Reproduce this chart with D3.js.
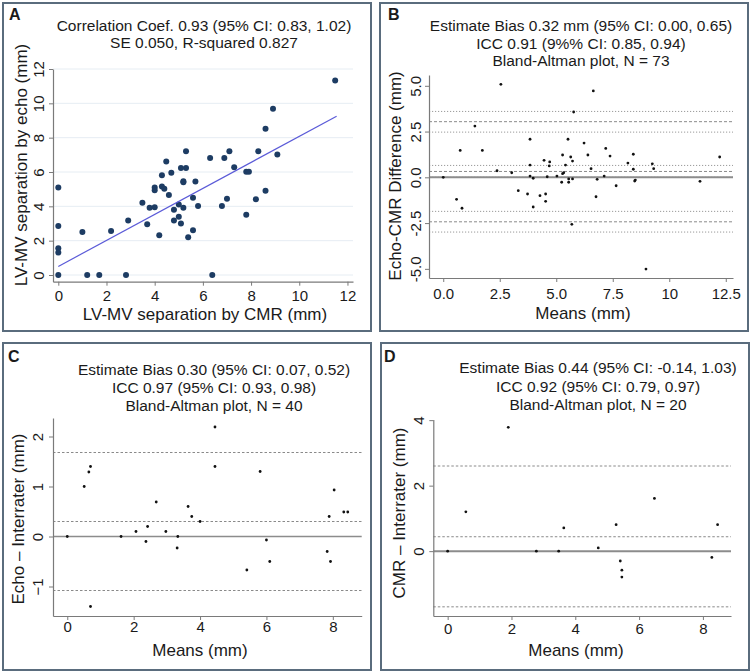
<!DOCTYPE html>
<html>
<head>
<meta charset="utf-8">
<script src="https://cdn.jsdelivr.net/npm/d3@7"></script>
<style>
  html, body { margin: 0; padding: 0; background: #ffffff; }
  svg text { font-family: "Liberation Sans", Arial, Helvetica, sans-serif; fill: #1a1a1a; }
</style>
</head>
<body>
<svg id="chart" width="752" height="671"></svg>
<script>
// ---------------- DATA ----------------
// Panel A: scatter CMR (x) vs echo (y)
const aCMR  = [0, 0, 0, 0, 0, 1.0, 1.2, 1.7, 2.19, 2.81, 2.9, 3.49, 3.69, 3.79, 4.0, 4.0, 4.0, 4.19, 4.3, 4.3, 4.4, 4.48, 4.59, 4.69, 4.8, 4.8, 5.0, 5.0, 5.09, 5.09, 5.19, 5.19, 5.19, 5.3, 5.3, 5.39, 5.59, 5.59, 5.69, 5.8, 11.49, 8.91, 8.6, 8.3, 9.09, 7.1, 6.3, 6.89, 7.3, 7.8, 7.91, 6.79, 7.0, 8.2, 8.6, 7.8, 6.39];
const aEcho = [5.1, 2.85, 1.56, 1.31, 0, 2.51, 0, 0, 2.57, 0, 3.18, 4.21, 2.96, 3.92, 3.94, 5.1, 4.93, 2.32, 5.81, 5.15, 5.03, 6.61, 4.66, 5.95, 3.8, 3.18, 4.11, 3.39, 3.0, 6.24, 3.92, 5.46, 5.4, 6.24, 7.21, 2.2, 4.5, 2.61, 5.44, 4.02, 11.33, 9.69, 8.52, 7.21, 7.02, 7.21, 6.82, 6.82, 6.28, 6.02, 6.02, 4.02, 4.44, 4.41, 4.91, 3.51, 0];
const aFitX = [0, 11.55];
const aFitY = [0.5, 9.25];
const aTitle = ["Correlation Coef. 0.93 (95% CI: 0.83, 1.02)", "SE 0.050, R-squared 0.827"];
const aTicks = [0, 2, 4, 6, 8, 10, 12];

// Panel B: Bland-Altman Echo vs CMR
const bMeans = [2.55, 5.77, 1.40, 3.84, 5.52, 0.75, 1.73, 4.46, 4.71, 4.69, 3.84, 5.28, 5.41, 5.64, 5.72, 2.38, 3.03, 0, 3.84, 3.98, 4.6, 5.03, 5.28, 5.33, 5.24, 5.55, 5.55, 5.72, 3.32, 3.73, 4.28, 4.53, 4.53, 3.98, 0.59, 0.83, 5.69, 6.64, 6.23, 7.19, 6.4, 7.38, 8.41, 8.17, 8.41, 9.25, 9.31, 12.23, 6.54, 6.81, 7.12, 7.65, 8.5, 8.47, 11.36, 6.76, 8.97];
const bDiffs = [5.08, 3.57, 2.8, 2.08, 2.08, 1.47, 1.47, 0.93, 0.84, 0.62, 0.67, 1.22, 0.67, 1.11, 0.89, 0.36, 0.25, 0, 0.07, -0.05, 0.03, 0.07, 0.2, 0.25, -0.27, -0.09, -0.27, -0.09, -0.73, -0.91, -1.0, -0.91, -1.31, -1.62, -1.2, -1.69, -2.57, 4.72, 1.87, 1.58, 1.22, 1.16, 1.26, 0.78, 0.44, 0.74, 0.47, 1.11, 0.47, -0.11, 0.07, -0.46, -0.15, -0.2, -0.22, -1.06, -5.01];
const bDashed = [0.32, 3.04, -2.43];
const bDotted = [0.00, 0.65, 2.47, 3.60, -2.99, -1.86];
const bTitle = ["Estimate Bias 0.32 mm (95% CI: 0.00, 0.65)", "ICC 0.91 (9%% CI: 0.85, 0.94)", "Bland-Altman plot, N = 73"];
const bXTicks = [0, 2.5, 5, 7.5, 10, 12.5];
const bXLabels = ["0.0", "2.5", "5.0", "7.5", "10", "12.5"];
const bYTicks = [-5, -2.5, 0, 2.5, 5];
const bYLabels = ["-5.0", "-2.5", "0.0", "2.5", "5.0"];

// Panel C: Echo interrater
const cMeans = [4.45, 0.70, 0.65, 0.51, 4.45, 5.81, 8.04, 2.68, 3.64, 3.75, 4.0, 7.89, 8.33, 8.45, 0, 1.62, 2.07, 2.42, 2.97, 2.37, 3.33, 3.31, 6.0, 6.1, 5.41, 7.83, 7.93, 0.70];
const cDiffs = [2.19, 1.40, 1.29, 1.0, 1.40, 1.3, 0.93, 0.69, 0.60, 0.40, 0.30, 0.40, 0.49, 0.49, 0, 0, 0.10, 0.20, 0.10, -0.10, 0, -0.23, -0.07, -0.50, -0.67, -0.30, -0.50, -1.40];
const cDashed = [0.30, 1.68, -1.08];
const cTitle = ["Estimate Bias 0.30 (95% CI: 0.07, 0.52)", "ICC 0.97 (95% CI: 0.93, 0.98)", "Bland-Altman plot, N = 40"];
const cXTicks = [0, 2, 4, 6, 8];
const cYTicks = [-1, 0, 1, 2];

// Panel D: CMR interrater
const dMeans = [1.90, 6.48, 0.57, 5.28, 3.64, 8.46, 0, 2.78, 3.48, 4.72, 5.41, 5.46, 5.46, 8.28];
const dDiffs = [3.78, 1.61, 1.20, 0.81, 0.71, 0.81, 0, 0, 0, 0.10, -0.30, -0.58, -0.79, -0.19];
const dDashed = [0.44, 2.60, -1.70];
const dTitle = ["Estimate Bias 0.44 (95% CI: -0.14, 1.03)", "ICC 0.92 (95% CI: 0.79, 0.97)", "Bland-Altman plot, N = 20"];
const dXTicks = [0, 2, 4, 6, 8];
const dYTicks = [0, 2, 4];

// ---------------- DRAW ----------------
const svg = d3.select("#chart");
const FRAME = "#5a6c7d";
const AXIS = "#7a7a7a";

function frame(x0, y0, x1, y1) {
  svg.append("rect").attr("x", x0).attr("y", y0).attr("width", x1 - x0).attr("height", y1 - y0)
    .attr("fill", "#fff").attr("stroke", FRAME).attr("stroke-width", 2);
}
function letter(t, x, y) {
  svg.append("text").attr("x", x).attr("y", y).attr("font-size", 16).attr("font-weight", "bold").text(t);
}
function titles(lines, cx, ys) {
  lines.forEach((l, i) => svg.append("text").attr("x", cx).attr("y", ys[i])
    .attr("text-anchor", "middle").attr("font-size", 15.5).text(l));
}
function styleAxis(g) {
  g.select(".domain").attr("stroke", AXIS).attr("stroke-width", 1.2);
  g.selectAll(".tick line").attr("stroke", AXIS).attr("stroke-width", 1);
  g.selectAll(".tick text").attr("font-size", 15).attr("fill", "#1a1a1a")
    .attr("font-family", "Liberation Sans, Arial, sans-serif");
}
function xAxis(x, yPix, ticks, labels, labelY) {
  const g = svg.append("g").attr("transform", `translate(0,${yPix})`)
    .call(d3.axisBottom(x).tickValues(ticks).tickSize(4).tickSizeOuter(0)
      .tickFormat((d, i) => labels ? labels[i] : d3.format("d")(d)));
  styleAxis(g);
  g.selectAll(".tick text").attr("y", labelY - yPix).attr("dy", "0.35em");
}
function yAxis(y, xPix, ticks, labels, labelX) {
  const g = svg.append("g").attr("transform", `translate(${xPix},0)`)
    .call(d3.axisLeft(y).tickValues(ticks).tickSize(4).tickSizeOuter(0)
      .tickFormat((d, i) => labels ? labels[i] : d3.format("d")(d)));
  styleAxis(g);
  g.selectAll(".tick text").attr("x", 0).attr("dy", "0.35em").attr("text-anchor", "middle")
    .attr("transform", `translate(${labelX - xPix},0) rotate(-90)`);
}
function axisTitles(xt, xcx, xcy, yt, ycx, ycy) {
  svg.append("text").attr("x", xcx).attr("y", xcy).attr("dy", "0.35em").attr("text-anchor", "middle")
    .attr("font-size", 17).text(xt);
  svg.append("text").attr("transform", `translate(${ycx},${ycy}) rotate(-90)`).attr("dy", "0.35em")
    .attr("text-anchor", "middle").attr("font-size", 17).text(yt);
}
function hlines(x, y, vals, dash, color, width) {
  svg.append("g").selectAll("line").data(vals).join("line")
    .attr("x1", x.range()[0]).attr("x2", x.range()[1])
    .attr("y1", d => y(d)).attr("y2", d => y(d))
    .attr("stroke", color).attr("stroke-width", width)
    .attr("stroke-dasharray", dash);
}
function dots(x, y, xs, ys, r, color) {
  svg.append("g").selectAll("circle").data(xs).join("circle")
    .attr("cx", d => x(d)).attr("cy", (d, i) => y(ys[i])).attr("r", r).attr("fill", color);
}

// ----- Panel A -----
frame(3, 3, 371, 331);
letter("A", 9, 20);
titles(aTitle, 204, [31, 48]);
{
  const x = d3.scaleLinear().domain([-0.22, 12.23]).range([53, 353]);
  const y = d3.scaleLinear().domain([-0.39, 12]).range([281.7, 69]);
  svg.append("g").selectAll("line").data(aTicks).join("line")
    .attr("x1", x.range()[0]).attr("x2", x.range()[1])
    .attr("y1", d => y(d)).attr("y2", d => y(d))
    .attr("stroke", "#e6edf3").attr("stroke-width", 1);
  xAxis(x, 281.7, aTicks, null, 296);
  yAxis(y, 53, aTicks, null, 39);
  dots(x, y, aCMR, aEcho, 3, "#1d3c63");
  svg.append("line").attr("x1", x(aFitX[0])).attr("y1", y(aFitY[0]))
    .attr("x2", x(aFitX[1])).attr("y2", y(aFitY[1]))
    .attr("stroke", "#5b5bd8").attr("stroke-width", 1.2);
  axisTitles("LV-MV separation by CMR (mm)", 205, 314, "LV-MV separation by echo (mm)", 21, 165);
}

// ----- Panel B -----
frame(380, 3, 748, 331);
letter("B", 388, 20);
titles(bTitle, 581, [31, 48.5, 66]);
{
  const x = d3.scaleLinear().domain([-0.63, 12.82]).range([429, 733]);
  const y = d3.scaleLinear().domain([-5.5, 5.59]).range([278, 75]);
  hlines(x, y, bDotted, "1.2,1.8", "#9a9a9a", 1);
  hlines(x, y, bDashed, "3,2", "#8a8a8a", 1);
  hlines(x, y, [0], null, "#8c8c8c", 2);
  xAxis(x, 278, bXTicks, bXLabels, 294);
  yAxis(y, 429, bYTicks, bYLabels, 416);
  dots(x, y, bMeans, bDiffs, 1.4, "#111");
  axisTitles("Means (mm)", 583, 313, "Echo-CMR Difference (mm)", 395, 176);
}

// ----- Panel C -----
frame(3, 343, 371, 670);
letter("C", 8, 362);
titles(cTitle, 214, [375, 393, 410.5]);
{
  const x = d3.scaleLinear().domain([-0.43, 8.87]).range([53, 361.7]);
  const y = d3.scaleLinear().domain([-1.59, 2.37]).range([616, 418]);
  hlines(x, y, cDashed, "2.5,2", "#8a8a8a", 1);
  hlines(x, y, [0], null, "#8c8c8c", 1.6);
  xAxis(x, 616, cXTicks, null, 627);
  yAxis(y, 53, cYTicks, null, 38);
  dots(x, y, cMeans, cDiffs, 1.4, "#111");
  axisTitles("Means (mm)", 200, 650, "Echo \u2013 Interrater (mm)", 18, 519);
}

// ----- Panel D -----
frame(381, 343, 749, 670);
letter("D", 384, 362);
titles(dTitle, 598, [373, 391.5, 410]);
{
  const x = d3.scaleLinear().domain([-0.45, 8.88]).range([433.3, 731]);
  const y = d3.scaleLinear().domain([-1.98, 4.02]).range([616, 419.5]);
  hlines(x, y, dDashed, "2.5,2", "#8a8a8a", 1);
  hlines(x, y, [0], null, "#8c8c8c", 2);
  xAxis(x, 616, dXTicks, null, 629);
  yAxis(y, 433.3, dYTicks, null, 419);
  dots(x, y, dMeans, dDiffs, 1.4, "#111");
  axisTitles("Means (mm)", 576, 650, "CMR \u2013 Interrater (mm)", 399, 513);
}
</script>
</body>
</html>
